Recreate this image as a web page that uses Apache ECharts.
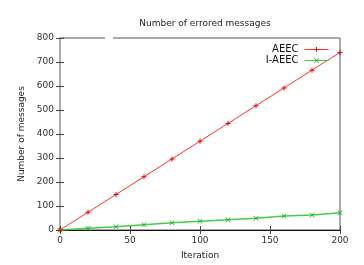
<!DOCTYPE html>
<html><head><meta charset="utf-8">
<script src="https://cdn.jsdelivr.net/npm/echarts@6/dist/echarts.min.js"></script>
<style>html,body{margin:0;padding:0;background:#fff}#c{width:364px;height:265px}</style>
</head><body><div id="c"></div>
<script>
var iterations = [0, 20, 40, 60, 80, 100, 120, 140, 160, 180, 200];
var aeec = [0, 74, 148, 222, 296, 370, 444, 518, 592, 666, 740];
var iaeec = [0, 7, 14, 22, 30, 36, 43, 49, 58, 63, 72];
var title = 'Number of errored messages';
var xName = 'Iteration';
var yName = 'Number of messages';

function pairs(xs, ys){ return xs.map(function(x,i){return [x, ys[i]];}); }
var plus = 'path://M4,0h2v4h4v2h-4v4h-2v-4h-4v-2h4z';
var cross = 'path://M1,0L5,4L9,0L10,1L6,5L10,9L9,10L5,6L1,10L0,9L4,5L0,1z';
var font = 'DejaVu Sans';
var chart = echarts.init(document.getElementById('c'));
chart.setOption({
  animation: false,
  textStyle: {fontFamily: font},
  title: {text: title, left: 200, textAlign: 'center', top: 14, textStyle: {fontSize: 9, fontWeight: 'normal', color: '#222', fontFamily: font}},
  grid: {left: 60, right: 24, top: 38, bottom: 34, show: true, borderColor: '#555', borderWidth: 1},
  legend: {
    right: 30, top: 39, orient: 'vertical', align: 'right', itemGap: 0, itemWidth: 24, itemHeight: 6,
    textStyle: {fontSize: 10, lineHeight: 11, color: '#111', fontFamily: font, padding: [0, 1, 0, 0]},
    data: [
      {name: 'AEEC', itemStyle: {color: '#ee0000'}, lineStyle: {width: 1, color: '#ff3333'}},
      {name: 'I-AEEC', itemStyle: {color: '#22aa22'}, lineStyle: {width: 1, color: '#44cc44'}}
    ]
  },
  xAxis: [{
    type: 'value', min: 0, max: 200, interval: 50, name: xName, nameLocation: 'middle', nameGap: 21,
    nameTextStyle: {fontSize: 9, color: '#222'},
    axisLine: {lineStyle: {color: '#111', width: 1}},
    axisTick: {inside: true, length: 4, lineStyle: {color: '#444'}},
    axisLabel: {fontSize: 9, color: '#333', margin: 6},
    splitLine: {show: false}
  }, {
    type: 'value', position: 'top', min: 0, max: 200, interval: 50,
    axisLine: {show: false}, axisTick: {inside: true, length: 4, lineStyle: {color: '#444'}},
    axisLabel: {show: false}, splitLine: {show: false}
  }],
  yAxis: [{
    type: 'value', min: 0, max: 800, interval: 100, name: yName, nameLocation: 'middle', nameGap: 34,
    nameTextStyle: {fontSize: 9, color: '#222'},
    axisLine: {show: true, lineStyle: {color: '#aaa', width: 2}},
    axisTick: {show: true, inside: true, length: 4, lineStyle: {color: '#444'}},
    axisLabel: {fontSize: 9, color: '#333', margin: 6},
    splitLine: {show: false}
  }, {
    type: 'value', position: 'right', min: 0, max: 800, interval: 100,
    axisLine: {show: false}, axisTick: {show: true, inside: true, length: 4, lineStyle: {color: '#444'}},
    axisLabel: {show: false}, splitLine: {show: false}
  }],
  series: [{
    name: 'AEEC', type: 'line', data: pairs(iterations, aeec), symbol: plus, symbolSize: 5,
    lineStyle: {color: '#ff3333', width: 1}, itemStyle: {color: '#ee0000'}, z: 3
  }, {
    name: 'I-AEEC', type: 'line', data: pairs(iterations, iaeec), symbol: cross, symbolSize: 5,
    lineStyle: {color: '#44cc44', width: 1.5}, itemStyle: {color: '#22aa22'}, z: 2
  }],
  graphic: [{type: 'rect', shape: {x: 105, y: 35, width: 8, height: 6}, style: {fill: '#fff'}, z: 100}]
});
</script></body></html>
